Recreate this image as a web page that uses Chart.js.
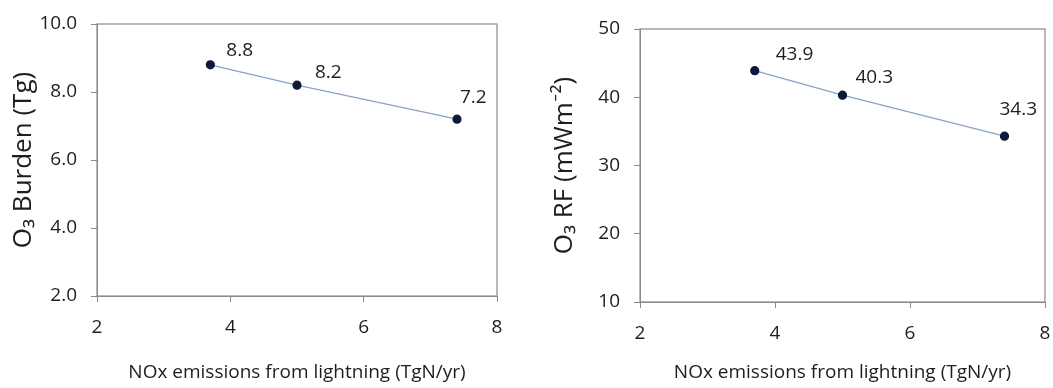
<!DOCTYPE html>
<html><head><meta charset="utf-8">
<script src="https://cdn.jsdelivr.net/npm/chart.js@4/dist/chart.umd.min.js"></script>
<style>
html,body{margin:0;padding:0;background:#fff;}
#wrap{position:relative;width:1053px;height:388px;}
.c{position:absolute;top:0;height:388px;}
</style></head><body>
<div id="wrap">
<div class="c" style="left:0;width:527px"><canvas id="c1"></canvas></div>
<div class="c" style="left:527px;width:526px"><canvas id="c2"></canvas></div>
</div>
<script>
const nox = [3.7, 5.0, 7.4];
const burden = [8.8, 8.2, 7.2];
const rf = [43.9, 40.3, 34.3];
const xTicks = [2, 4, 6, 8];
const burdenTicks = [2, 4, 6, 8, 10];
const rfTicks = [10, 20, 30, 40, 50];
const xTitle = 'NOx emissions from lightning (TgN/yr)';
const burdenTitle = 'O\u2083 Burden (Tg)';
const rfTitle = 'O\u2083 RF (mWm\u207B\u00B2)';

const FONT = '"Open Sans", Lato, sans-serif';
const GRAY = '#8a8a8a';
const TXT = '#1e1e1e';

const boxPlugin = {
  id: 'box',
  beforeDatasetsDraw(chart) {
    const a = chart.chartArea, ctx = chart.ctx;
    ctx.save();
    ctx.strokeStyle = GRAY; ctx.lineWidth = 1.2;
    ctx.strokeRect(a.left, a.top, a.right - a.left, a.bottom - a.top);
    ctx.restore();
  }
};
const labelPlugin = {
  id: 'ptlabels',
  afterDatasetsDraw(chart, args, opts) {
    const ctx = chart.ctx;
    const meta = chart.getDatasetMeta(0);
    const data = chart.data.datasets[0].data;
    ctx.save();
    ctx.font = '19px ' + FONT;
    ctx.fillStyle = TXT;
    ctx.textAlign = 'left';
    ctx.textBaseline = 'middle';
    meta.data.forEach((p, i) => {
      const off = opts.offsets[i];
      ctx.fillText(opts.fmt(data[i].y), p.x + off[0], p.y + off[1]);
    });
    ctx.restore();
  }
};

function make(id, ys, yTicks, yTitle, dec, cfg) {
  const pts = nox.map((x, i) => ({x, y: ys[i]}));
  return new Chart(document.getElementById(id), {
    type: 'scatter',
    data: { datasets: [{ data: pts, showLine: true, borderColor: '#8aa2c8', borderWidth: 1.2,
      pointBackgroundColor: '#0b1a3a', pointBorderColor: '#0b1a3a', pointRadius: 4 }] },
    options: {
      responsive: true, maintainAspectRatio: false, animation: false,
      layout: { padding: cfg.padding },
      plugins: { legend: { display: false }, tooltip: { enabled: false },
        ptlabels: { offsets: cfg.offsets, fmt: v => v.toFixed(1) } },
      scales: {
        x: { type: 'linear', min: xTicks[0], max: xTicks[xTicks.length - 1],
          afterBuildTicks: s => { s.ticks = xTicks.map(v => ({value: v})); },
          afterFit: s => { s.height = cfg.xh; s.paddingLeft = 0; s.paddingRight = 0; },
          grid: { drawOnChartArea: false, tickLength: 6, color: GRAY },
          border: { color: GRAY },
          ticks: { font: { size: 19, family: FONT }, color: TXT, padding: 14 },
          title: { display: true, text: xTitle, font: { size: 19, family: FONT }, color: TXT, padding: { top: 8 } } },
        y: { min: yTicks[0], max: yTicks[yTicks.length - 1],
          afterBuildTicks: s => { s.ticks = yTicks.map(v => ({value: v})); },
          afterFit: s => { s.width = cfg.yw; s.paddingTop = 0; s.paddingBottom = 0; },
          grid: { drawOnChartArea: false, tickLength: 6, color: GRAY },
          border: { color: GRAY },
          ticks: { font: { size: 19, family: FONT }, color: TXT, padding: 14,
            callback: v => v.toFixed(dec) },
          title: { display: true, text: yTitle, font: { size: 26, family: FONT }, color: TXT, padding: { top: cfg.ytPad, bottom: 0 } } }
      }
    },
    plugins: [boxPlugin, labelPlugin]
  });
}

make('c1', burden, burdenTicks, burdenTitle, 1, {
  padding: { top: 24, right: 30, left: 0, bottom: 0 }, xh: 92, yw: 97, ytPad: 8,
  offsets: [[16, -14], [18, -13], [3, -22]] });
make('c2', rf, rfTicks, rfTitle, 0, {
  padding: { top: 29, right: 8, left: 0, bottom: 0 }, xh: 86, yw: 113, ytPad: 22,
  offsets: [[21, -16], [13, -18], [-5, -27]] });
</script>
</body></html>
